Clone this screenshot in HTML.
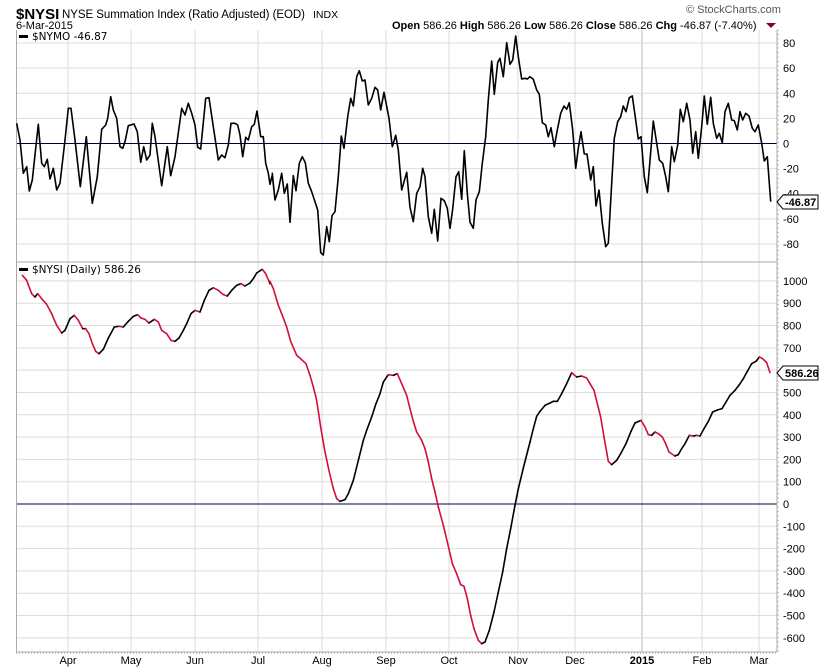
<!DOCTYPE html>
<html><head><meta charset="utf-8">
<style>
body{margin:0;background:#fff;}
svg{display:block;font-family:"Liberation Sans",sans-serif;}
</style></head>
<body>
<svg id="c" width="820" height="668" xmlns="http://www.w3.org/2000/svg">
<rect width="820" height="668" fill="#fff"/>
<g id="grid"></g>
<text x="16" y="19" font-size="15" font-weight="bold" fill="#000">$NYSI</text>
<text x="62" y="18" font-size="11.5" fill="#000" textLength="243">NYSE Summation Index (Ratio Adjusted) (EOD)</text>
<text x="313" y="18" font-size="10.5" fill="#000">INDX</text>
<text x="16" y="29" font-size="11" fill="#000">6-Mar-2015</text>
<text x="686" y="13" font-size="11" fill="#555">© StockCharts.com</text>
<text x="392" y="29" font-size="11" fill="#000"><tspan font-weight="bold">Open</tspan> 586.26 <tspan font-weight="bold">High</tspan> 586.26 <tspan font-weight="bold">Low</tspan> 586.26 <tspan font-weight="bold">Close</tspan> 586.26 <tspan font-weight="bold">Chg</tspan> -46.87 (-7.40%)</text>
<polygon points="766,23 776,23 771,28" fill="#8b0020"/>
<g id="lines"></g>
<rect x="19" y="35" width="9" height="3" fill="#000"/>
<text x="32" y="40" fill="#000" style="font-family:'DejaVu Sans',sans-serif;font-size:10.5px">$NYMO -46.87</text>
<rect x="19" y="268" width="9" height="3" fill="#000"/>
<text x="32" y="273" fill="#000" style="font-family:'DejaVu Sans',sans-serif;font-size:10.5px">$NYSI (Daily) 586.26</text>
<g font-size="11" fill="#000" id="lbl"></g>
<g>
<polygon points="777,202 783,195 818,195 818,209 783,209" fill="#fff" stroke="#000" stroke-width="1"/>
<text x="785" y="206" font-size="11" font-weight="bold">-46.87</text>
<polygon points="777,373 783,366 818,366 818,380 783,380" fill="#fff" stroke="#000" stroke-width="1"/>
<text x="785" y="377" font-size="11" font-weight="bold">586.26</text>
</g>
</svg>
<script>
var NS="http://www.w3.org/2000/svg";
function el(t,a,p){var e=document.createElementNS(NS,t);for(var k in a)e.setAttribute(k,a[k]);(p||document.getElementById('lines')).appendChild(e);return e;}
var grid=document.getElementById('grid'),lbl=document.getElementById('lbl');
var L=16.5,R=777,T1=30,B1=262,B2=652;
var mx=[68,131,195,258,322,386,449,518,575,642,702,759];
var mn=["Apr","May","Jun","Jul","Aug","Sep","Oct","Nov","Dec","2015","Feb","Mar"];
for(var i=0;i<mx.length;i++){
 el('line',{x1:mx[i],x2:mx[i],y1:T1,y2:B2,stroke:i==9?'#bbb':'#ddd','stroke-width':1},grid);
 var t=el('text',{x:mx[i],y:664,'font-size':11,'text-anchor':'middle','font-weight':i==9?'bold':'normal'},lbl);t.textContent=mn[i];}
for(var v=-80;v<=80;v+=20){var y=143.5-v*1.256;el('line',{x1:L,x2:R,y1:y,y2:y,stroke:v==0?'#000030':'#ddd','stroke-width':1},grid);
 var t=el('text',{x:783,y:y+4,'font-size':11},lbl);t.textContent=v;}
for(var v=-600;v<=1000;v+=100){var y=504-v*0.2231;el('line',{x1:L,x2:R,y1:y,y2:y,stroke:v==0?'#000030':'#ddd','stroke-width':1},grid);
 var t=el('text',{x:783,y:y+4,'font-size':11},lbl);t.textContent=v;}
el('line',{x1:L,x2:R,y1:B1,y2:B1,stroke:'#aaa'},grid);
el('line',{x1:L,x2:L,y1:T1,y2:B2,stroke:'#aaa'},grid);
el('line',{x1:R,x2:R,y1:T1,y2:B2,stroke:'#aaa'},grid);
el('line',{x1:L,x2:R,y1:B2,y2:B2,stroke:'#aaa'},grid);
for(var x=L;x<R;x+=3)el('line',{x1:x,x2:x,y1:B2,y2:B2+2,stroke:'#999','stroke-width':0.6},grid);
for(var y=T1;y<B2;y+=4.5)el('line',{x1:R,x2:R+2,y1:y,y2:y,stroke:'#999','stroke-width':0.6},grid);
function conv(arr,x0,y0){var o=[];for(var i=0;i<arr.length;i+=2)o.push([x0+arr[i]/3,y0+arr[i+1]/3]);return o;}
var a1=conv([5,280,15,330,25,430,35,410,43,483,52,450,70,283,80,400,88,410,97,388,105,447,115,415,125,480,135,460,150,330,160,235,168,235,180,330,196,470,214,320,232,520,247,440,260,298,272,285,278,265,287,200,295,240,305,265,315,350,323,355,330,335,340,287,357,282,367,305,377,397,386,350,395,390,405,375,412,280,420,320,440,467,457,350,467,437,480,380,500,235,510,255,520,220,530,250,540,285,548,352,557,357,572,205,582,203,592,270,610,390,620,375,630,383,640,345,648,280,660,280,668,285,675,315,683,380,692,322,700,330,710,290,718,283,726,243,737,320,745,320,752,400,760,430,765,463,772,435,780,510],15,30);
var a2=conv([7,430,15,510,25,480,35,430,43,490,52,462,60,577,70,437,78,482,88,400,97,380,106,398,115,460,125,485,143,540,152,668,160,675,170,590,178,635,186,557,195,545,205,440,214,318,222,355,233,260,242,205,250,228,260,140,268,122,277,153,285,150,295,225,305,205,315,172,323,180,332,240,342,187,357,265,367,350,377,316,385,360,395,480,410,427,420,532,430,575,440,490,450,470,458,415,465,440,475,560,485,610,493,538,503,633,513,505,523,512,532,535,540,595,548,537,558,440,566,425,575,508,583,362,592,490,600,577,610,595,618,510,628,485,637,400,647,320,655,210,665,93,673,193,683,97,690,85,700,140,710,38,720,103,728,90,737,18,745,80,755,147,765,145,772,147,780,140],270,30);
var a3=conv([25,148,35,180,43,193,52,278,62,285,70,320,78,293,88,350,97,300,107,250,117,228,125,238,133,218,143,300,152,415,160,355,168,305,178,372,186,372,197,450,205,410,213,528,222,480,232,580,242,650,250,640,260,460,268,325,278,275,287,260,295,228,303,245,313,203,322,198,330,255,340,327,348,320,358,440,367,488,385,273,395,340,403,390,413,400,422,440,430,485,440,350,448,395,458,345,466,238,475,275,485,220,495,270,503,370,512,305,520,385,530,290,538,198,547,283,557,202,565,280,575,325,583,310,592,338,600,245,610,220,620,270,628,272,637,300,645,245,653,270,662,250,672,258,682,295,690,305,700,285,710,340,718,393,727,380,737,515],525,30);
var m=a1.concat(a2,a3);
el('polyline',{points:m.map(function(p){return p[0].toFixed(1)+','+p[1].toFixed(1)}).join(' '),fill:'none',stroke:'#000','stroke-width':1.6,'stroke-linejoin':'round'});
var b1=conv([22,40,35,55,50,95,60,105,68,95,80,110,95,127,110,155,125,190,140,213,150,205,165,170,178,160,190,175,203,200,212,200,222,215,232,245,242,268,252,275,265,262,280,228,298,195,312,193,325,195,340,178,355,163,368,158,378,168,390,172,402,183,418,172,430,180,440,205,455,215,468,235,480,238,492,228,505,205,515,185,528,155,540,145,555,150,568,115,582,85,595,77,610,85,625,98,637,102,650,85,665,70,678,65,690,72,705,63,715,50,725,33,742,22,752,35,765,65],15,262);
var b2=conv([0,58,10,80,25,130,35,155,50,195,62,238,80,280,95,293,108,305,120,340,130,375,140,415,152,495,165,570,178,630,190,680,200,710,210,718,225,713,235,695,250,655,265,595,280,535,290,505,305,465,318,425,330,395,340,360,355,338,370,340,382,335,395,365,410,400,420,440,430,478,440,510,455,535,465,560,475,600,485,650,495,690,505,735,520,790,532,840,547,905,560,935,572,968,582,973,592,1010,602,1060,612,1100,625,1135,635,1145,645,1140,658,1105,672,1050,685,990,698,930,710,860,722,800,735,730,745,680,760,618,780,540],270,262);
var b3=conv([100,500,110,463,120,448,135,430,150,423,160,418,172,418,185,395,200,365,215,332,230,345,245,342,260,348,270,365,282,385,292,425,302,465,312,525,325,598,335,608,350,595,362,575,378,545,393,508,405,483,423,475,435,495,445,518,455,520,465,510,475,515,487,525,497,545,507,570,525,582,535,578,545,560,555,545,568,520,580,522,590,520,600,522,612,500,625,478,638,450,652,444,666,440,678,420,690,400,705,385,718,368,730,350,742,328,755,305,768,298,778,285,788,290,800,302,810,332],500,262);
var s=b1.concat(b2,b3);
for(var i=1;i<s.length;i++){var p=s[i-1],q=s[i];
 el('line',{x1:p[0],y1:p[1],x2:q[0],y2:q[1],stroke:q[1]>p[1]+0.3?'#d0103a':'#000','stroke-width':1.6,'stroke-linecap':'round'});}
</script>
</body></html>
